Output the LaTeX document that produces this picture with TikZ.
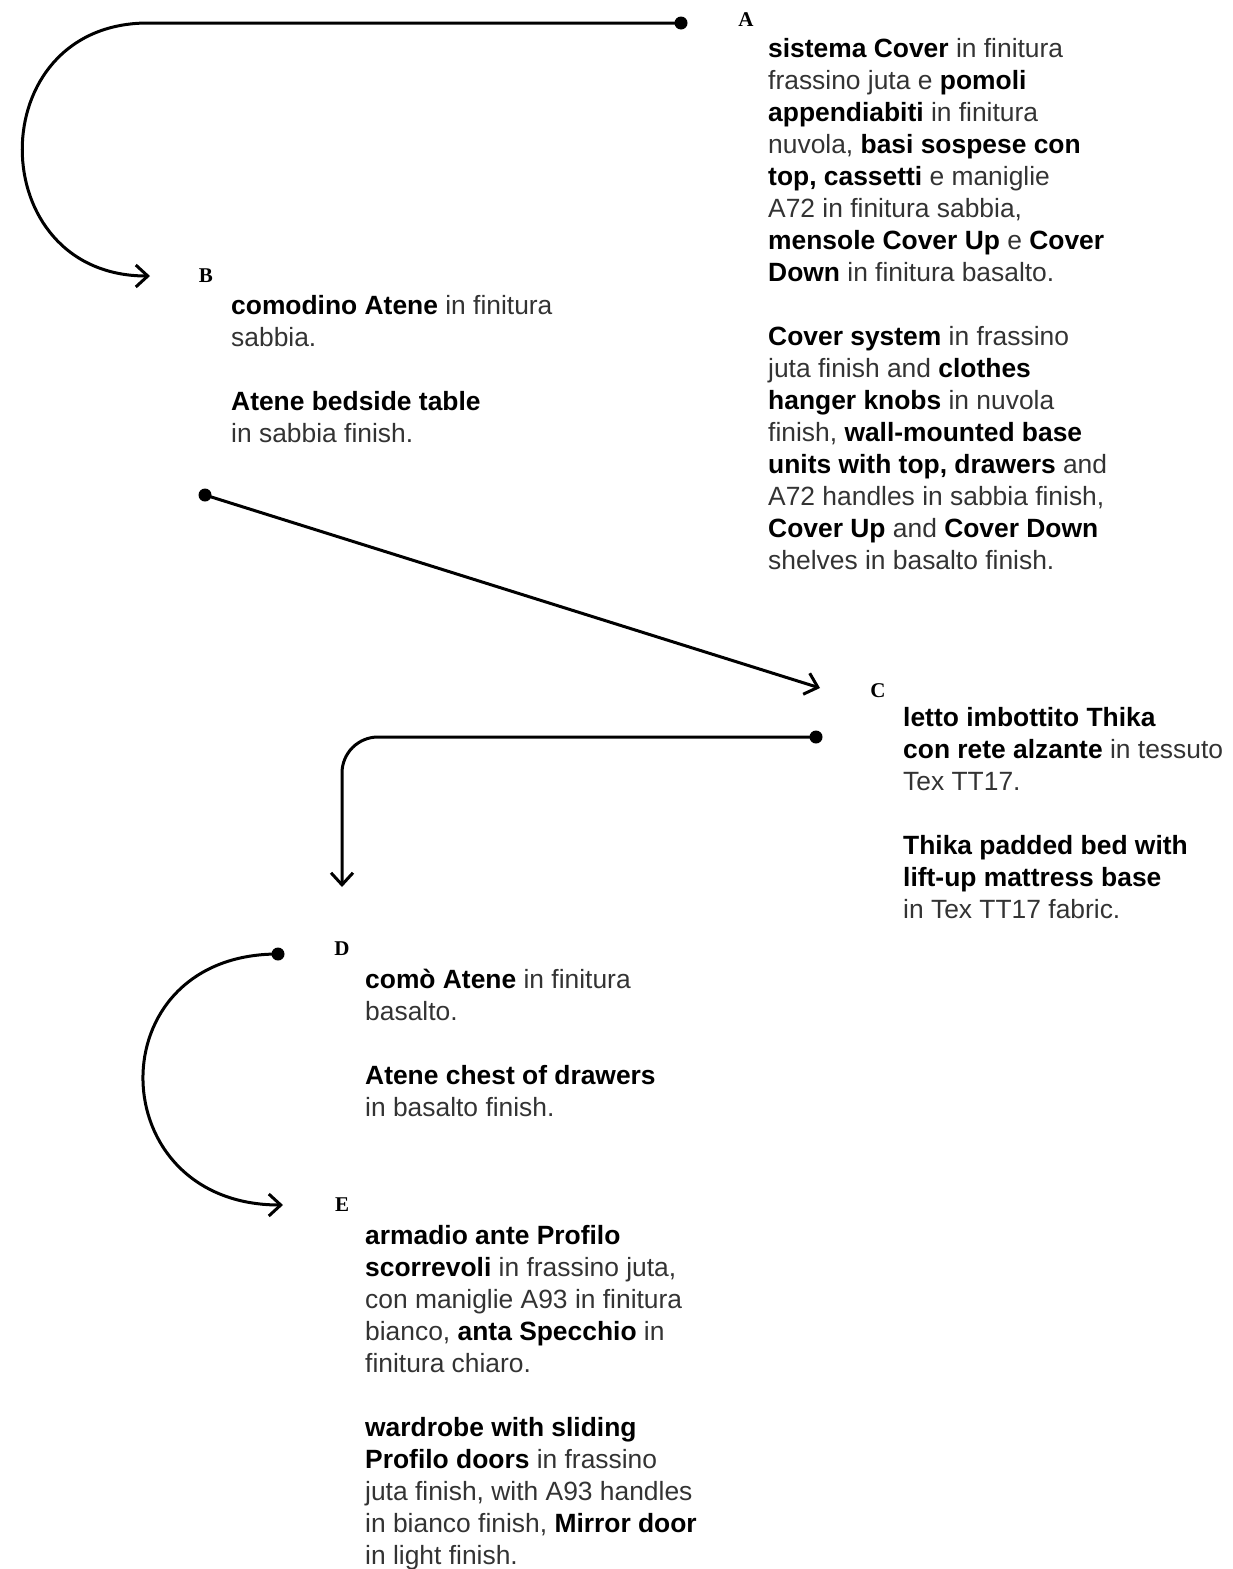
\documentclass[tikz,border=0pt]{standalone}
\usepackage{fontspec}
\usetikzlibrary{arrows.meta}
\newfontfamily\txtfont{Liberation Sans}
\newfontfamily\letfont{Liberation Serif}
\newcommand{\bld}[1]{\textbf{\color{black}#1}}
\tikzstyle{bullet}=[circle,fill=black,minimum size=13pt,inner sep=0pt]
\tikzstyle{letter}=[anchor=base,inner sep=0pt,font=\letfont\bfseries\fontsize{21}{21}\selectfont]
\tikzstyle{caption}=[anchor=north west,align=left,inner sep=0pt,text=black!80,font=\txtfont\fontsize{26.4}{32}\selectfont]
\tikzstyle{wire}=[line width=3pt,-{Straight Barb[length=12pt,width=22pt]}]

\begin{document}
\begin{tikzpicture}[x=1pt,y=-1pt]
\useasboundingbox (0,0) rectangle (1233,1569);

\node[letter] at (746, 26) (A) {A};
\node[letter] at (206, 282) (B) {B};
\node[letter] at (878, 697) (C) {C};
\node[letter] at (342, 955) (D) {D};
\node[letter] at (342, 1211) (E) {E};

% text top = first baseline - 22.4
\node[caption] at (768, 35) (textA) {\strut\bld{sistema Cover} in finitura\\
frassino juta e \bld{pomoli}\\
\bld{appendiabiti} in finitura\\
nuvola, \bld{basi sospese con}\\
\bld{top, cassetti} e maniglie\\
A72 in finitura sabbia,\\
\bld{mensole Cover Up} e \bld{Cover}\\
\bld{Down} in finitura basalto.\\[32pt]
\bld{Cover system} in frassino\\
juta finish and \bld{clothes}\\
\bld{hanger knobs} in nuvola\\
finish, \bld{wall-mounted base}\\
\bld{units with top, drawers} and\\
A72 handles in sabbia finish,\\
\bld{Cover Up} and \bld{Cover Down}\\
shelves in basalto finish.};
\node[caption] at (231, 291.6) (textB) {\strut\bld{comodino Atene} in finitura\\
sabbia.\\[32pt]
\bld{Atene bedside table}\\
in sabbia finish.};
\node[caption] at (903, 704) (textC) {\strut\bld{letto imbottito Thika}\\
\bld{con rete alzante} in tessuto\\
Tex TT17.\\[32pt]
\bld{Thika padded bed with}\\
\bld{lift-up mattress base}\\
in Tex TT17 fabric.};
\node[caption] at (365, 965.6) (textD) {\strut\bld{comò Atene} in finitura\\
basalto.\\[32pt]
\bld{Atene chest of drawers}\\
in basalto finish.};
\node[caption] at (365, 1221.6) (textE) {\strut\bld{armadio ante Profilo}\\
\bld{scorrevoli} in frassino juta,\\
con maniglie A93 in finitura\\
bianco, \bld{anta Specchio} in\\
finitura chiaro.\\[32pt]
\bld{wardrobe with sliding}\\
\bld{Profilo doors} in frassino\\
juta finish, with A93 handles\\
in bianco finish, \bld{Mirror door}\\
in light finish.};

\node[bullet] at (681, 23) (dotA) {};
\node[bullet] at (205, 495) (dotB) {};
\node[bullet] at (816, 737) (dotC) {};
\node[bullet] at (278, 954) (dotD) {};
\coordinate (bendA) at (148, 23);
\coordinate (arrB) at (150, 276);
\coordinate (arrC) at (820, 688);
\coordinate (arrD) at (342, 887);
\coordinate (arrE) at (283, 1205);

\draw[wire] (dotA.center) -- (bendA) to[out=180, in=180, looseness=1.7] (arrB);
\draw[wire] (dotB.center) -- (arrC);
\draw[wire, rounded corners=36pt] (dotC.center) -| (arrD);
\draw[wire] (dotD.center) to[out=180, in=180, looseness=1.86] (arrE);
\end{tikzpicture}
\end{document}
